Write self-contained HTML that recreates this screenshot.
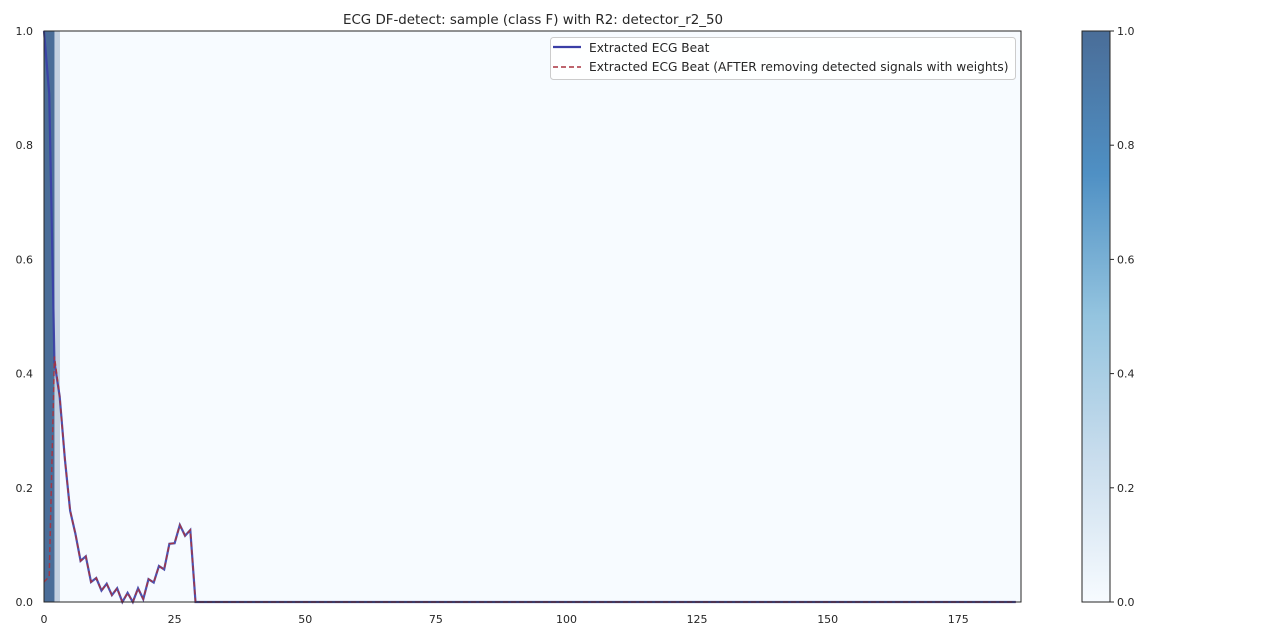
<!DOCTYPE html>
<html><head><meta charset="utf-8"><style>
body{margin:0;background:#fff;font-family:"DejaVu Sans","Liberation Sans",sans-serif;}
svg text{font-family:"DejaVu Sans","Liberation Sans",sans-serif;fill:#262626;}
</style></head><body>
<svg id="c" width="1280" height="640"></svg>
<script>
const blueVals=[1.0,0.89,0.42,0.36,0.25,0.16,0.12,0.072,0.08,0.035,0.042,0.02,0.032,0.012,0.024,0.0,0.016,0.0,0.024,0.005,0.04,0.034,0.063,0.057,0.102,0.103,0.135,0.116,0.126,0.0];
const redVals=[0.035,0.045,0.43,0.36,0.25,0.16,0.12,0.072,0.08,0.035,0.042,0.02,0.032,0.012,0.024,0.0,0.016,0.0,0.024,0.005,0.04,0.034,0.063,0.057,0.102,0.103,0.135,0.116,0.126,0.0];
const weights=[1,1,0.3];
const N=187;
const xTicks=[0,25,50,75,100,125,150,175];
const yTicks=[0,0.2,0.4,0.6,0.8,1.0];
const cbTicks=[0,0.2,0.4,0.6,0.8,1.0];
const NS="http://www.w3.org/2000/svg";
const svg=document.getElementById('c');
const L=44,R=1021,T=31,B=602;
const xs=v=>L+(v/187)*(R-L);
const ys=v=>B-v*(B-T);
function mk(t,a,p){const e=document.createElementNS(NS,t);for(const k in a)e.setAttribute(k,a[k]);(p||svg).appendChild(e);return e;}
function col(w){const a=[247,251,255],b=[74,109,152];return 'rgb('+a.map((c,i)=>Math.round(c+(b[i]-c)*w)).join(',')+')';}
const bg=mk('rect',{x:L,y:T,width:R-L,height:B-T,fill:col(0)});


weights.forEach((w,i)=>{const r=mk('rect',{x:xs(i),y:T,width:xs(i+1)-xs(i)+0.3,height:B-T,fill:col(w)});

});
function series(vals,attrs,name){const pts=[];for(let i=0;i<N;i++){const v=i<vals.length?vals[i]:0;pts.push(xs(i)+','+ys(v));}
const p=mk('polyline',Object.assign({points:pts.join(' '),fill:'none'},attrs));

}
series(blueVals,{stroke:'#3a3ea6','stroke-width':2.2,'stroke-opacity':0.9},'extracted-beat-line');
series(redVals,{stroke:'#a8323e','stroke-width':1.5,'stroke-dasharray':'5,3','stroke-opacity':0.9},'after-removal-line');
const fr=mk('rect',{x:L,y:T,width:R-L,height:B-T,fill:'none',stroke:'#262626','stroke-width':1});


xTicks.forEach(v=>{const t=mk('text',{x:xs(v),y:623,'font-size':11,'text-anchor':'middle'});t.textContent=v;

});
yTicks.forEach(v=>{const t=mk('text',{x:33,y:ys(v)+4,'font-size':11,'text-anchor':'end'});t.textContent=v.toFixed(1);

});
const ti=mk('text',{x:533,y:24,'font-size':13.4,'text-anchor':'middle'});ti.textContent='ECG DF-detect: sample (class F) with R2: detector_r2_50';


const lg=mk('g',{});


mk('rect',{x:550.5,y:37.5,width:465,height:42,rx:3,fill:'#fff','fill-opacity':0.85,stroke:'#ccc'},lg);
mk('line',{x1:553,y1:47,x2:581,y2:47,stroke:'#3a3ea6','stroke-width':2.2},lg);
mk('line',{x1:553,y1:67,x2:581,y2:67,stroke:'#a8323e','stroke-width':1.5,'stroke-dasharray':'5,3'},lg);
const l1=mk('text',{x:589,y:52,'font-size':12.2},lg);l1.textContent='Extracted ECG Beat';
const l2=mk('text',{x:589,y:71,'font-size':12.2},lg);l2.textContent='Extracted ECG Beat (AFTER removing detected signals with weights)';
const defs=mk('defs',{});
const g=mk('linearGradient',{id:'cg',x1:0,y1:1,x2:0,y2:0},defs);
[0,0.25,0.5,0.75,1].forEach(s=>mk('stop',{offset:s,'stop-color':['#f7fbff','#c9dded','#94c4df','#4f90c4','#4a6d98'][s*4]},g));
const cb=mk('rect',{x:1082,y:T,width:28,height:B-T,fill:'url(#cg)',stroke:'#262626'});


cbTicks.forEach(v=>{const y=ys(v);mk('line',{x1:1110,y1:y,x2:1114,y2:y,stroke:'#262626'});
const t=mk('text',{x:1117,y:y+4,'font-size':11});t.textContent=v.toFixed(1);

});
</script>
</body></html>
